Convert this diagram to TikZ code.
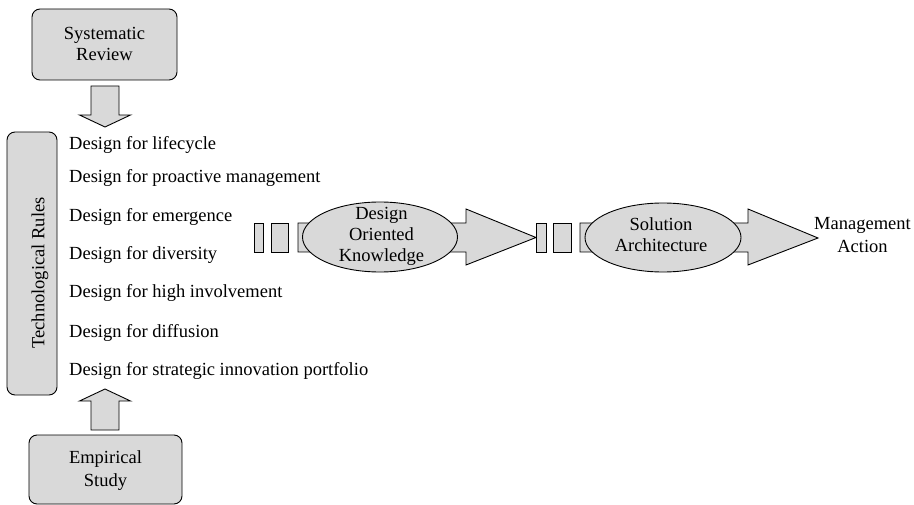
\documentclass[tikz,border=0pt]{standalone}
\usepackage{fontspec}
\setmainfont{Liberation Serif}
\usetikzlibrary{shapes.geometric}
\begin{document}
\begin{tikzpicture}[x=1bp,y=-1bp,
  font=\fontsize{18.5bp}{21bp}\selectfont,
  boxfill/.style={fill=black!15},
  rbox/.style={draw, boxfill, rounded corners=8bp, line width=0.9bp, inner sep=0pt},
  oval/.style={draw, boxfill, ellipse, line width=0.9bp, inner sep=0pt},
  blockshape/.style={draw, boxfill, line width=0.9bp, line join=miter},
  rule/.style={anchor=base west, inner sep=0pt},
  lbl/.style={align=center, inner sep=0pt}]
\useasboundingbox (0,0) rectangle (914,505);

% source boxes
\node[rbox, minimum width=145bp, minimum height=71bp] (sr) at (104.5,44.5) {};
\node[lbl] (srt) at (104.5,44) {Systematic\\Review};
\node[rbox, minimum width=50bp, minimum height=263bp] (tr) at (32,263.5) {};
\node[lbl, rotate=90] (trt) at (40,273) {Technological Rules};
\node[rbox, minimum width=153bp, minimum height=69bp] (es) at (105.5,469.5) {};
\node[lbl] (est) at (105.5,471) {Empirical\\[2bp]Study};

% block arrows into the rule box
\draw[blockshape] (91,86) -- (119,86) -- (119,115) -- (130.5,115) -- (105,127)
  -- (79.5,115) -- (91,115) -- cycle;
\draw[blockshape] (91,430) -- (119,430) -- (119,401) -- (130.5,401) -- (105,389)
  -- (79.5,401) -- (91,401) -- cycle;

% design rules
\node[rule] (r1) at (69,149.5) {Design for lifecycle};
\node[rule] (r2) at (69,182.5) {Design for proactive management};
\node[rule] (r3) at (69,222) {Design for emergence};
\node[rule] (r4) at (69,259.5) {Design for diversity};
\node[rule] (r5) at (69,298) {Design for high involvement};
\node[rule] (r6) at (69,337.5) {Design for diffusion};
\node[rule] (r7) at (69,375.5) {Design for strategic innovation portfolio};

% striped arrow towards the design knowledge
\draw[blockshape] (254,223) rectangle (263,252);
\draw[blockshape] (271,223) rectangle (288,252);
\draw[blockshape] (298,223) -- (466,223) -- (466,209) -- (536,237.5) -- (466,265)
  -- (466,252) -- (298,252) -- cycle;
\node[oval, minimum width=155bp, minimum height=70bp] (dok) at (380,237) {};
\node[lbl] (dokt) at (381.5,236) {Design\\Oriented\\Knowledge};

% striped arrow towards the solution architecture
\draw[blockshape] (536,223) rectangle (546,252);
\draw[blockshape] (553,223) rectangle (571,252);
\draw[blockshape] (580,223) -- (748,223) -- (748,209) -- (818,238) -- (748,265)
  -- (748,252) -- (580,252) -- cycle;
\node[oval, minimum width=156bp, minimum height=69bp] (sa) at (663,237.5) {};
\node[lbl] (sat) at (661,235) {Solution\\Architecture};

% outcome
\node[lbl] (ma) at (862.5,235) {Management\\[2bp]Action};
\end{tikzpicture}
\end{document}
